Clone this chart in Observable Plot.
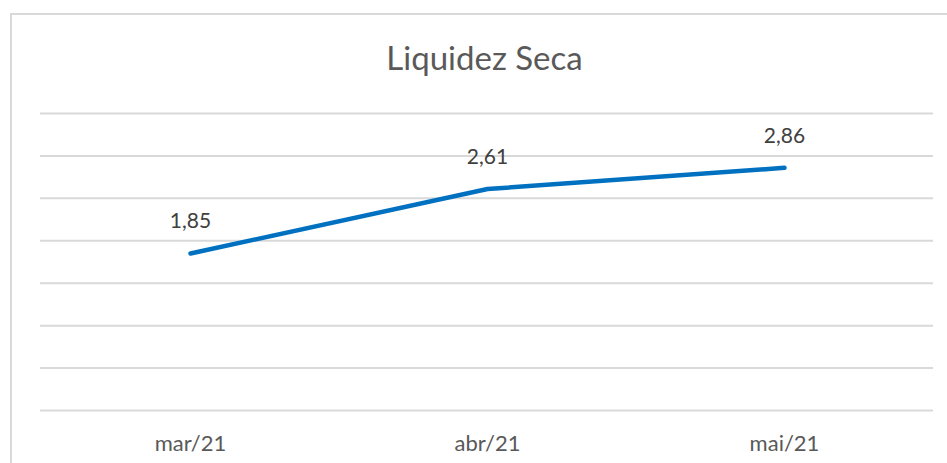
<!DOCTYPE html>
<html><head><meta charset="utf-8">
<script src="https://cdn.jsdelivr.net/npm/d3@7"></script>
<script src="https://cdn.jsdelivr.net/npm/@observablehq/plot@0.6"></script>
<style>
body{margin:0;background:#fff;font-family:Lato,"Open Sans",sans-serif;}
#wrap{position:relative;width:947px;height:463px;overflow:hidden;}
#frame{position:absolute;left:10px;top:13px;width:1000px;height:500px;border-left:2px solid #d9d9d9;border-top:2px solid #d9d9d9;}
#title{position:absolute;left:11px;top:0;width:947px;height:90px;text-align:center;font-size:33px;line-height:114px;color:#595959;}
#chart{position:absolute;left:0;top:90px;}
</style></head><body>
<div id="wrap"><div id="frame"></div><div id="title">Liquidez Seca</div><div id="chart"></div></div>
<script>
const categories = ["mar/21","abr/21","mai/21"];
const values = [1.85, 2.61, 2.86];
const gridTicks = [0,0.5,1,1.5,2,2.5,3,3.5];
const data = categories.map((c,i)=>({cat:c, v:values[i]}));
const fmt = d => d.toFixed(2).replace(".", ",");
const chart = Plot.plot({
  width: 947, height: 373,
  marginLeft: 40, marginRight: 14, marginTop: 23, marginBottom: 53,
  style: {fontFamily: "Lato, 'Open Sans', sans-serif", background: "transparent"},
  x: {type: "point", domain: categories, padding: 0.5, label: null},
  y: {domain: [0, 3.5], axis: null},
  marks: [
    Plot.ruleY(gridTicks, {stroke: "#d9d9d9", strokeWidth: 2}),
    Plot.axisX({tickSize: 0, tickPadding: 25, fontSize: 22, fill: "#595959", label: null}),
    Plot.line(data, {x: "cat", y: "v", stroke: "#0070c0", strokeWidth: 4.5, strokeLinecap: "round"}),
    Plot.text(data, {x: "cat", y: "v", text: d => fmt(d.v), dy: -32, fontSize: 21, fill: "#404040"})
  ]
});
document.getElementById("chart").appendChild(chart);
</script></body></html>
